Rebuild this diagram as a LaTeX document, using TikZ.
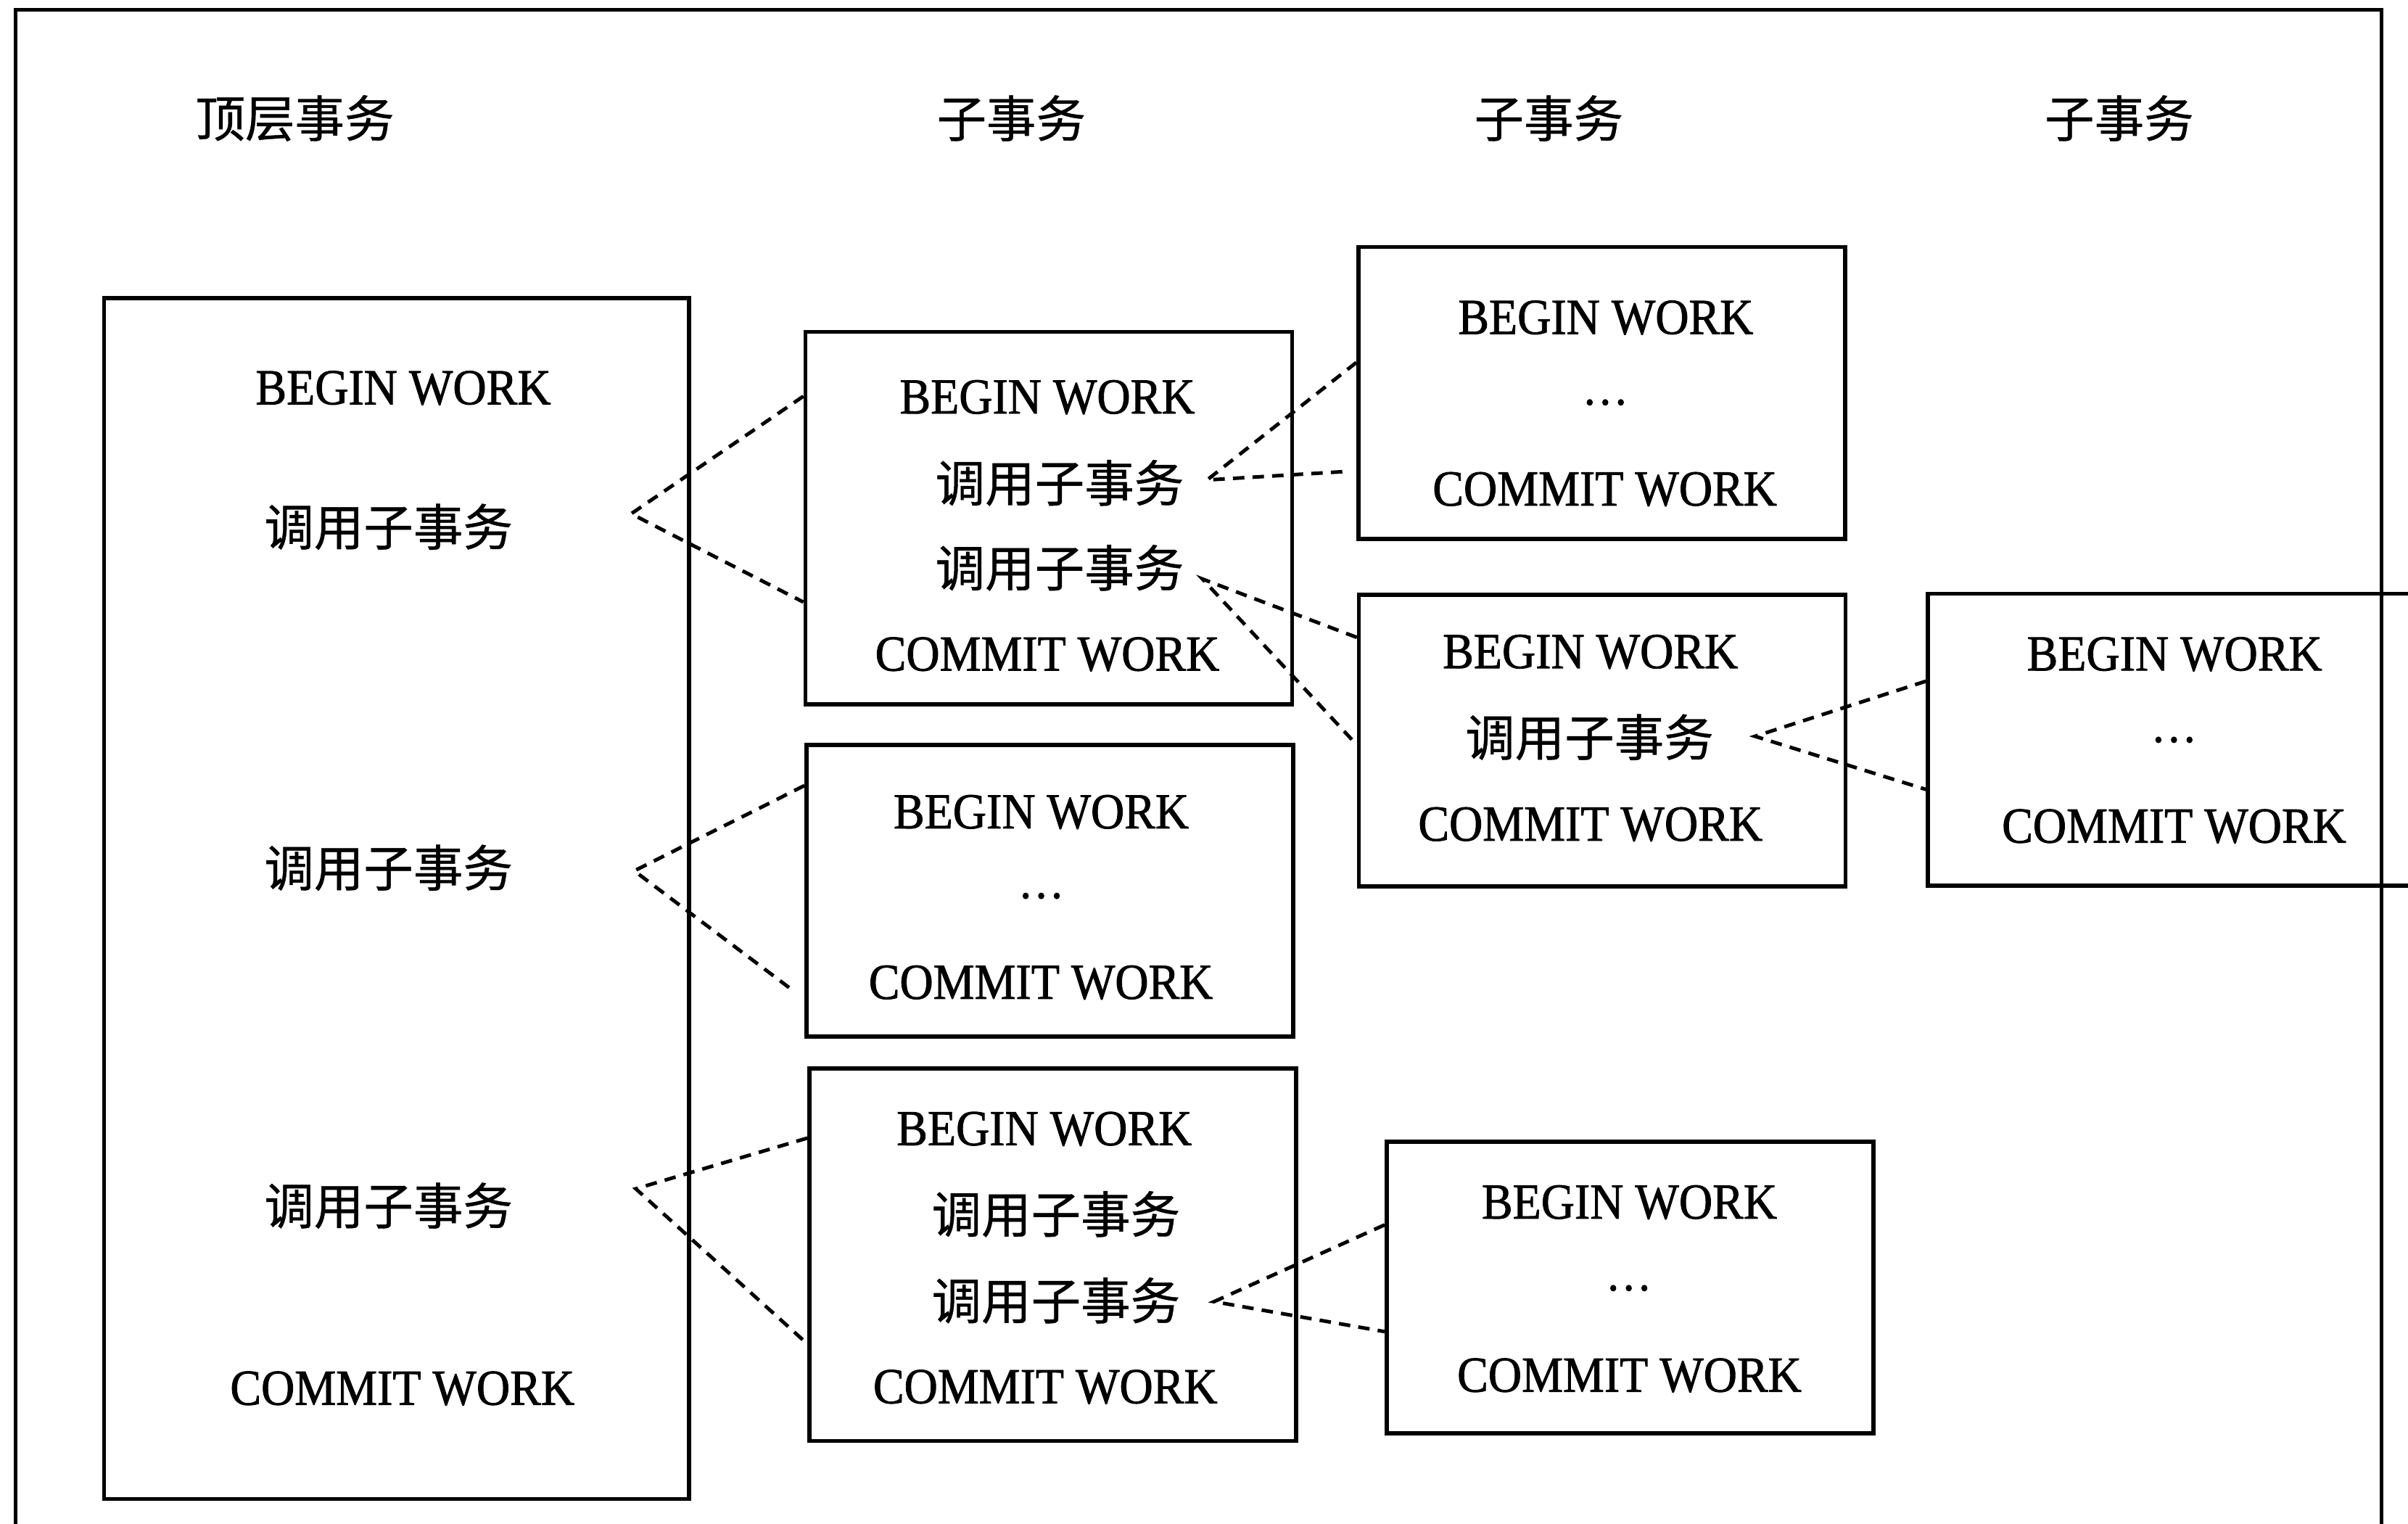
\documentclass[tikz,border=0pt]{standalone}
\usepackage{fontspec}
\setmainfont{Liberation Serif}[FakeStretch=0.92, FakeBold=1.2]
\newfontfamily\cjk{Noto Sans CJK SC}[FakeBold=0.6]
\usetikzlibrary{calc}
\begin{document}
\begin{tikzpicture}[x=0.021173cm, y=-0.021173cm,
  box/.style={draw, line width=1.6pt, inner sep=0pt},
  tall/.style={minimum width=8.067cm, minimum height=16.557cm},
  four/.style={minimum width=6.712cm, minimum height=5.134cm},
  three/.style={minimum width=6.712cm, minimum height=4.023cm},
  lat/.style={inner sep=0pt, font=\fontsize{19.8pt}{24pt}\selectfont},
  han/.style={inner sep=0pt, font=\fontsize{19.5pt}{24pt}\selectfont\cjk},
  link/.style={line width=1.4pt, dash pattern=on 4.5pt off 3.2pt},
  frame/.style={line width=1.5pt}]
\useasboundingbox (0,0) rectangle (1568,992);
\clip (0,0) rectangle (1568,992);

% outer frame (open at the bottom)
\draw[frame] (10,1000) -- (10,6.5) -- (1550.6,6.5) -- (1550.6,1000);

% column headings
\node[han] (h0) at (192,77) {顶层事务};
\node[han] (h1) at (658.5,77) {子事务};
\node[han] (h2) at (1008.5,77) {子事务};
\node[han] (h3) at (1380,77) {子事务};

% transaction boxes
\node[box, tall]  (T) at (258.3,585) {};
\node[box, four]  (A) at (682.9,337.3) {};
\node[box, three] (B) at (683.6,580) {};
\node[box, four]  (C) at (685.5,817) {};
\node[box, three] (D) at (1043,255.8) {};
\node[box, three] (E) at (1043.3,482.2) {};
\node[box, three] (F) at (1061.4,838.3) {};
\node[box, three] (G) at (1413.9,481.6) {};

% top-level transaction
\node[lat] (tb)  at (262.6,252.6) {BEGIN WORK};
\node[han] (tc1) at (253,343) {调用子事务};
\node[han] (tc2) at (253,565) {调用子事务};
\node[han] (tc3) at (253,785) {调用子事务};
\node[lat] (te)  at (262,904) {COMMIT WORK};

% second level
\node[lat] (ab)  at (682,258.6) {BEGIN WORK};
\node[han] (ac1) at (690,314.4) {调用子事务};
\node[han] (ac2) at (690,369.7) {调用子事务};
\node[lat] (ae)  at (682,426) {COMMIT WORK};

\node[lat] (bb) at (678,528.7) {BEGIN WORK};
\node[lat] (bd) at (678,583.3) {…};
\node[lat] (be) at (677.8,639.7) {COMMIT WORK};

\node[lat] (cb)  at (680,735) {BEGIN WORK};
\node[han] (cc1) at (687.6,790.5) {调用子事务};
\node[han] (cc2) at (687.6,846.8) {调用子事务};
\node[lat] (ce)  at (680.7,903) {COMMIT WORK};

% third level
\node[lat] (db) at (1045.6,206.8) {BEGIN WORK};
\node[lat] (dd) at (1045.3,262) {…};
\node[lat] (de) at (1045,318.5) {COMMIT WORK};

\node[lat] (eb) at (1035.6,424.4) {BEGIN WORK};
\node[han] (ec) at (1035,480) {调用子事务};
\node[lat] (ee) at (1035.6,536.7) {COMMIT WORK};

\node[lat] (fb) at (1061,782.8) {BEGIN WORK};
\node[lat] (fd) at (1060.6,838.7) {…};
\node[lat] (fe) at (1061,895.5) {COMMIT WORK};

% fourth level
\node[lat] (gb) at (1416,425.9) {BEGIN WORK};
\node[lat] (gd) at (1415.6,481.7) {…};
\node[lat] (ge) at (1415.7,538) {COMMIT WORK};

% fork points beside each call
\coordinate (vT1) at (411,334.5);
\coordinate (vT2) at (413,567);
\coordinate (vT3) at (414,774);
\coordinate (vA1) at (786,312.5);
\coordinate (vA2) at (783,377);
\coordinate (vC2) at (790.5,847.5);
\coordinate (vE)  at (1142.8,479.4);

% dashed call links
\draw[link] ($(A.west)+(0,-79.3)$) -- (vT1) -- ($(A.west)+(0,54.7)$);
\draw[link] ($(B.west)+(0,-68.5)$) -- (vT2) -- ($(B.west)+(-10,63)$);
\draw[link] ($(C.west)+(0,-76)$) -- (vT3) -- ($(C.west)+(0,58)$);
\draw[link] ($(D.west)+(0,-19.8)$) -- (vA1) -- ($(D.west)+(-7,51.2)$);
\draw[link] ($(E.west)+(0,-67.2)$) -- (vA2) -- ($(E.west)+(0,2.8)$);
\draw[link] ($(F.west)+(0,-40.8)$) -- (vC2) -- ($(F.west)+(0,28.7)$);
\draw[link] ($(G.west)+(0,-38.1)$) -- (vE) -- ($(G.west)+(0,32.4)$);
\end{tikzpicture}
\end{document}
